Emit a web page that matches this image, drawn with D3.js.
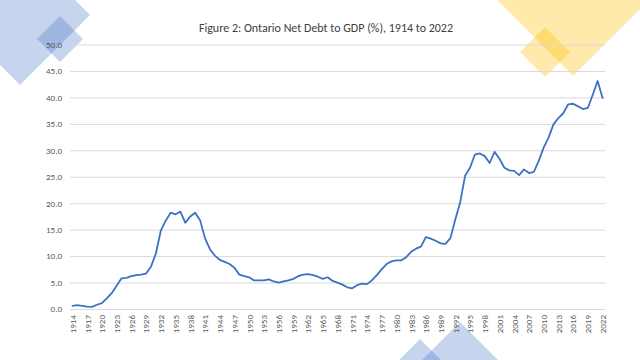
<!DOCTYPE html>
<html>
<head>
<meta charset="utf-8">
<script src="https://cdn.jsdelivr.net/npm/d3@7"></script>
<style>
  html, body { margin: 0; padding: 0; background: #ffffff; }
  svg { display: block; }
  text { font-family: Calibri, Carlito, Lato, "Open Sans", sans-serif; }
</style>
</head>
<body>
<svg id="chart" width="640" height="360"></svg>
<script>
const title = "Figure 2: Ontario Net Debt to GDP (%), 1914 to 2022";

const years = d3.range(1914, 2023);

const debtToGdp = [
  0.6, 0.75, 0.6, 0.45, 0.4, 0.8, 1.1, 2.0, 3.0, 4.4,        // 1914-1923
  5.8, 5.9, 6.2, 6.4, 6.5, 6.7, 8.0, 10.5, 14.8, 16.7,       // 1924-1933
  18.2, 17.9, 18.4, 16.3, 17.5, 18.2, 16.8, 13.4, 11.3, 10.1, // 1934-1943
  9.3, 8.9, 8.5, 7.8, 6.5, 6.2, 6.0, 5.4, 5.4, 5.4,          // 1944-1953
  5.6, 5.2, 5.0, 5.2, 5.4, 5.7, 6.2, 6.5, 6.6, 6.4,          // 1954-1963
  6.1, 5.7, 6.0, 5.3, 5.0, 4.6, 4.1, 3.9, 4.5, 4.8,          // 1964-1973
  4.7, 5.4, 6.4, 7.5, 8.5, 9.0, 9.2, 9.2, 9.8, 10.8,         // 1974-1983
  11.4, 11.8, 13.6, 13.3, 12.9, 12.4, 12.3, 13.4, 16.9, 20.2, // 1984-1993
  25.2, 26.7, 29.2, 29.4, 28.9, 27.6, 29.7, 28.4, 26.7, 26.2, // 1994-2003
  26.1, 25.3, 26.4, 25.7, 25.9, 28.0, 30.5, 32.4, 34.9, 36.1, // 2004-2013
  37.0, 38.7, 38.8, 38.3, 37.8, 38.0, 40.5, 43.1, 39.9        // 2014-2022
];

const yTicks = [0, 5, 10, 15, 20, 25, 30, 35, 40, 45, 50];
const xTickYears = [1914, 1917, 1920, 1923, 1926, 1929, 1932, 1935, 1938, 1941,
  1944, 1947, 1950, 1953, 1956, 1959, 1962, 1965, 1968, 1971, 1974, 1977, 1980,
  1983, 1986, 1989, 1992, 1995, 1998, 2001, 2004, 2007, 2010, 2013, 2016, 2019, 2022];

const svg = d3.select("#chart");

// ---- decorative shapes ----
const deco = svg.append("g");
function diamond(cx, cy, r) {
  return `M${cx},${cy - r}L${cx + r},${cy}L${cx},${cy + r}L${cx - r},${cy}Z`;
}
// top-left blue
deco.append("path").attr("d", diamond(20, 15, 70)).attr("fill", "#4472c4").attr("opacity", 0.3);
deco.append("path").attr("d", diamond(60, 39, 23)).attr("fill", "#4472c4").attr("opacity", 0.3);
// top-right yellow
deco.append("path").attr("d", diamond(573, 0, 76)).attr("fill", "#ffc000").attr("opacity", 0.33);
deco.append("path").attr("d", diamond(545, 52, 25)).attr("fill", "#ffc000").attr("opacity", 0.33);
// bottom blue
deco.append("path").attr("d", diamond(420, 360, 21)).attr("fill", "#4472c4").attr("opacity", 0.3);
deco.append("path").attr("d", diamond(460, 360, 38)).attr("fill", "#4472c4").attr("opacity", 0.3);

// ---- scales ----
const x = d3.scalePoint().domain(years).range([70, 605]).padding(0.5);
const y = d3.scaleLinear().domain([0, 50]).range([309, 44.5]);

// gridlines
const yAxis = d3.axisLeft(y).tickValues(yTicks).tickSize(-(605 - 70)).tickFormat(d3.format(".1f"));
const gy = svg.append("g").attr("transform", "translate(70,0)").call(yAxis);
gy.select(".domain").remove();
gy.selectAll(".tick line").attr("stroke", "#d9d9d9").attr("stroke-width", 1);
gy.selectAll(".tick text")
  .attr("x", -8)
  .attr("fill", "#595959")
  .style("font-size", "9px");

// x axis labels
const xAxis = d3.axisBottom(x).tickValues(xTickYears).tickSize(0);
const gx = svg.append("g").attr("transform", "translate(0,309)").call(xAxis);
gx.select(".domain").remove();
gx.selectAll(".tick text")
  .attr("transform", "rotate(-90)")
  .attr("x", -6)
  .attr("y", 0)
  .attr("dy", "0.32em")
  .attr("text-anchor", "end")
  .attr("fill", "#595959")
  .style("font-size", "9px");

// line
const line = d3.line().x((d, i) => x(years[i])).y(d => y(d)).curve(d3.curveLinear);
svg.append("path")
  .datum(debtToGdp)
  .attr("d", line)
  .attr("fill", "none")
  .attr("stroke", "#4070c2")
  .attr("stroke-width", 1.8)
  .attr("stroke-linejoin", "round")
  .attr("stroke-linecap", "round");

// title
svg.append("text")
  .attr("x", 326)
  .attr("y", 32)
  .attr("text-anchor", "middle")
  .attr("fill", "#404040")
  .style("font-size", "12px")
  .text(title);
</script>
</body>
</html>
